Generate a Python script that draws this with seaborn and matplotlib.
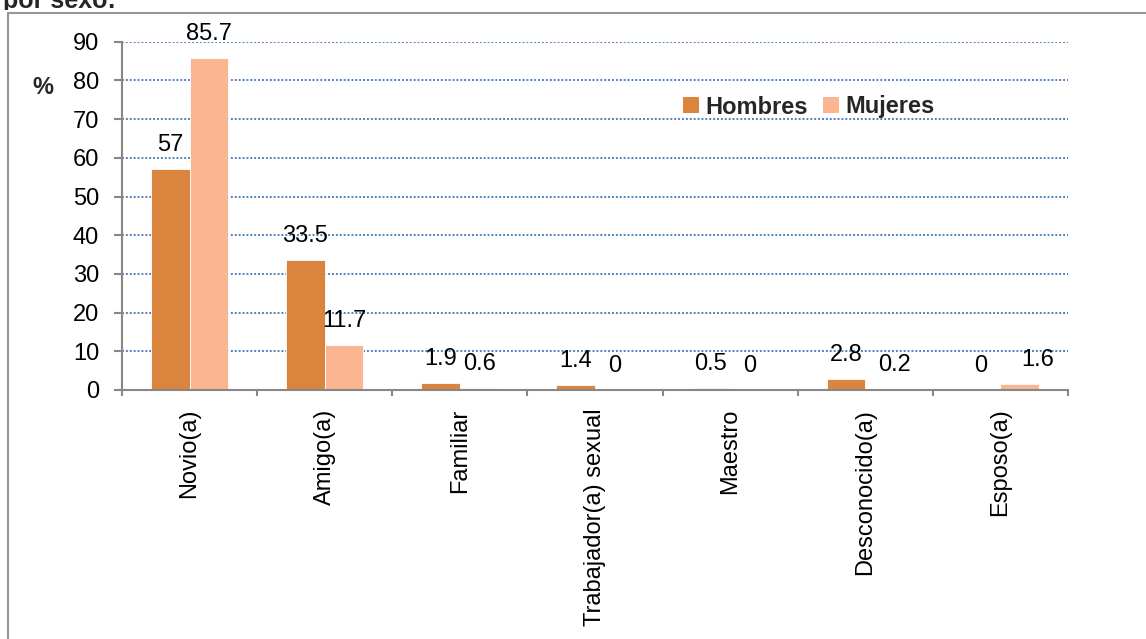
import matplotlib
matplotlib.use("Agg")
import matplotlib.pyplot as plt
from matplotlib import font_manager
from matplotlib.patches import Patch
from matplotlib.lines import Line2D
from matplotlib.transforms import Bbox, TransformedBbox
import seaborn as sns
import pandas as pd

# Data
categories = ["Novio(a)", "Amigo(a)", "Familiar", "Trabajador(a) sexual",
              "Maestro", "Desconocido(a)", "Esposo(a)"]
hombres = [57, 33.5, 1.9, 1.4, 0.5, 2.8, 0]
mujeres = [85.7, 11.7, 0.6, 0, 0, 0.2, 1.6]
series_names = ["Hombres", "Mujeres"]
y_ticks = [0, 10, 20, 30, 40, 50, 60, 70, 80, 90]

df = pd.DataFrame({
    "categoria": categories * 2,
    "valor": hombres + mujeres,
    "sexo": [series_names[0]] * len(categories) + [series_names[1]] * len(categories),
})

sns.set_theme(style="white")
available = {f.name for f in font_manager.fontManager.ttflist}
narrow = "Liberation Sans Narrow" in available
base_font = "Liberation Sans Narrow" if narrow else "Liberation Sans"
plt.rcParams["font.family"] = [base_font, "DejaVu Sans"]

colors = ["#DB843D", "#FAB690"]
axis_gray = "#878787"
W, H = 1146, 639
FS = 20 if narrow else 17

fig = plt.figure(figsize=(W / 100, H / 100), dpi=100)
ax = fig.add_axes([122 / W, 1 - 390 / H, (1068 - 122) / W, (390 - 41.7) / H])

sns.barplot(data=df, x="categoria", y="valor", hue="sexo", order=categories,
            hue_order=series_names, palette=colors, saturation=1, width=0.57,
            gap=0, ax=ax, legend=False, edgecolor="white", linewidth=0.6)

ax.set_xlim(-0.5, len(categories) - 0.5)
ax.set_ylim(0, 90)
ax.set_yticks(y_ticks)
ax.set_yticklabels([str(t) for t in y_ticks], fontsize=FS)
ax.set_xticks(range(len(categories)))
ax.set_xticklabels(categories, rotation=90, fontsize=FS, ha="center", va="top")
ax.set_xticks([i - 0.5 for i in range(len(categories) + 1)], minor=True)
ax.set_xlabel("")
ax.set_ylabel("")

ax.tick_params(axis="x", which="major", length=0, pad=13.5, colors="black")
ax.tick_params(axis="x", which="minor", length=4.5, width=1.5, color=axis_gray,
               direction="out", bottom=True)
ax.tick_params(axis="y", which="major", length=6, width=1.5, color=axis_gray,
               direction="out", pad=10.5, left=True, labelcolor="black")

for side in ["top", "right"]:
    ax.spines[side].set_visible(False)
for side in ["left", "bottom"]:
    ax.spines[side].set_color(axis_gray)
    ax.spines[side].set_linewidth(1.5)

ax.yaxis.grid(True, color="#4F81BD", linestyle=(0, (1, 1)), linewidth=1.4)
ax.xaxis.grid(False)
ax.set_axisbelow(True)

# Value labels above every bar
label_nudge_px = {("Desconocido(a)", "Mujeres"): 10, ("Esposo(a)", "Mujeres"): 18}
for name, container, values in zip(series_names, ax.containers, [hombres, mujeres]):
    for cat, bar, v in zip(categories, container, values):
        dx = label_nudge_px.get((cat, name), 0) * 0.72
        ax.annotate(f"{v:g}", (bar.get_x() + bar.get_width() / 2, bar.get_height()),
                    xytext=(dx, 13), textcoords="offset points", ha="center",
                    va="baseline", fontsize=FS, color="black", annotation_clip=False)

# Legend
handles = [Patch(facecolor=c, edgecolor="none", label=n) for c, n in zip(colors, series_names)]
fig.legend(handles=handles, loc="center left", bbox_to_anchor=(683 / W, 1 - 107 / H),
           bbox_transform=fig.transFigure, ncol=2, frameon=False, borderpad=0,
           borderaxespad=0, handlelength=0.68, handleheight=0.68, handletextpad=0.26,
           columnspacing=0.64, prop={"family": [base_font, "DejaVu Sans"],
                                     "weight": "bold", "size": FS})

# Axis unit
fig.text(43 / W, 1 - 87 / H, "%", fontsize=FS, fontweight="bold", ha="center", va="center")

# Caption line running off the top edge
cap = fig.text(3 / W, 1 - 8 / H, "por sexo:", fontsize=FS + 1, fontweight="bold",
               ha="left", va="baseline")
cap.set_clip_box(TransformedBbox(Bbox([[0, 1 - 10 / H], [0.3, 1]]), fig.transFigure))
cap.set_clip_on(True)

# Chart area border
fig.add_artist(Line2D([8 / W, 8 / W], [0, 1 - 13 / H], transform=fig.transFigure,
                      color="#969696", linewidth=1.5))
fig.add_artist(Line2D([8 / W, 1], [1 - 13 / H, 1 - 13 / H], transform=fig.transFigure,
                      color="#969696", linewidth=1.5))

fig.savefig("out.png", dpi=100, facecolor="white")
